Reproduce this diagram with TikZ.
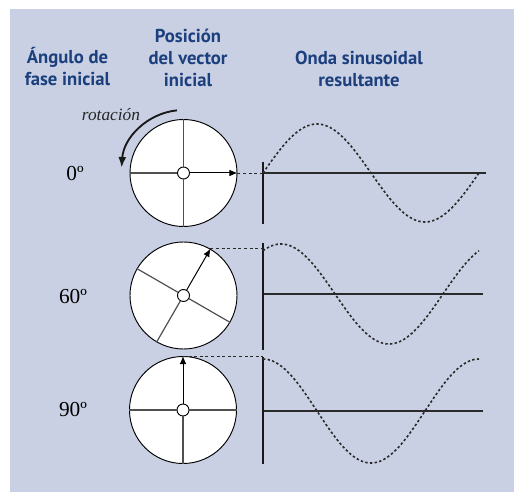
\documentclass[tikz,border=0pt]{standalone}
\usepackage{fontspec}
\setmainfont{Liberation Serif}
\newfontfamily\headfont{PT Sans}
\usetikzlibrary{arrows.meta}
\definecolor{bgblue}{HTML}{C9D0E3}
\definecolor{headblue}{HTML}{1C3F7E}
\definecolor{spokegray}{HTML}{505050}
\definecolor{darkline}{HTML}{2A2A2A}
\tikzset{
  heading/.style={font=\headfont\bfseries\fontsize{14pt}{16.5pt}\selectfont, text=headblue, align=center, inner sep=0pt, anchor=north},
  phase/.style={font=\fontsize{16pt}{18pt}\selectfont, inner sep=0pt},
  wheel/.style={circle, draw=black, fill=white, line width=0.7pt, minimum size=80.25pt, inner sep=0pt},
  hub/.style={circle, draw=black, fill=white, line width=0.7pt, minimum size=9pt, inner sep=0pt},
  spoke/.style={draw=spokegray, line width=0.9pt},
  vec/.style={draw=black, line width=0.75pt, -{Latex[length=6pt,width=5pt]}},
  guide/.style={draw=darkline, line width=0.7pt, dash pattern=on 2.2pt off 2pt},
  vaxis/.style={draw=black!90, line width=1.8pt},
  haxis/.style={draw=darkline, line width=1.5pt},
  wave/.style={draw=darkline, line width=1.2pt, dash pattern=on 1.8pt off 1.7pt},
  rot/.style={draw=black!90, line width=1.4pt, -{Latex[length=8pt,width=6pt]}},
}
\begin{document}
\begin{tikzpicture}[x=0.75pt, y=-0.75pt]
\useasboundingbox (0,0) rectangle (515,492);
\fill[bgblue] (10,9) rectangle (514,492);

% headings
\node[heading] (h1) at (67.5,47) {Ángulo de\\fase inicial};
\node[heading] (h2) at (188,29) {Posición\\del vector\\inicial};
\node[heading] (h3) at (359,51) {Onda sinusoidal\\resultante};

% phase labels
\node[phase] (p1) at (75,174) {0º};
\node[phase] (p2) at (73,297) {60º};
\node[phase] (p3) at (73,410) {90º};

% rotation label
\node[font=\itshape\fontsize{13pt}{15pt}\selectfont, text=black!85, inner sep=0pt] (rl) at (111,115) {rotación};

% wheels
\node[wheel] (c1) at (183.5,173) {};
\node[wheel] (c2) at (183.5,295.5) {};
\node[wheel] (c3) at (183,410) {};
\node[hub] (k1) at (c1.center) {};
\node[hub] (k2) at (c2.center) {};
\node[hub] (k3) at (c3.center) {};

\foreach \a in {90,180,270} \draw[spoke] (k1.\a) -- (c1.\a);
\foreach \a in {150,240,330} \draw[spoke] (k2.\a) -- (c2.\a);
\foreach \a in {0,180,270} \draw[spoke] (k3.\a) -- (c3.\a);

\draw[vec] (k1.0) -- (c1.0);
\draw[vec] (k2.60) -- (c2.60);
\draw[vec] (k3.90) -- (c3.90);

% rotation arrow
\draw[rot] (c1.center) ++(-96:63) arc[start angle=-96, end angle=-176, radius=62];

% axes
\coordinate (a1t) at (263,162); \coordinate (a1b) at (263,224);
\coordinate (a1l) at (263,173); \coordinate (a1r) at (486,173);
\coordinate (a2t) at (263,243); \coordinate (a2b) at (263,350);
\coordinate (a2l) at (263,294); \coordinate (a2r) at (483,294);
\coordinate (a3t) at (263,357); \coordinate (a3b) at (263,464);
\coordinate (a3l) at (263,411); \coordinate (a3r) at (483,411);

\draw[haxis] (a1l) -- (a1r);
\draw[haxis] (a2l) -- (a2r);
\draw[haxis] (a3l) -- (a3r);
\draw[vaxis] (a1t) -- (a1b);
\draw[vaxis] (a2t) -- (a2b);
\draw[vaxis] (a3t) -- (a3b);

% guides
\draw[guide] (c1.0) -- (a1l);
\draw[guide] (c2.60) -- (c2.60 -| a2t);
\draw[guide] (c3.90) -- (c3.90 -| a3t);

% waves
\draw[wave] plot[domain=0:360, samples=91, smooth] ({263+\x*0.6}, {173-49*sin(\x)});
\draw[wave] plot[domain=60:420, samples=91, smooth] ({263+(\x-60)*0.6}, {294-50*sin(\x)});
\draw[wave] plot[domain=90:450, samples=91, smooth] ({263+(\x-90)*0.6}, {411-52*sin(\x)});
\end{tikzpicture}
\end{document}
